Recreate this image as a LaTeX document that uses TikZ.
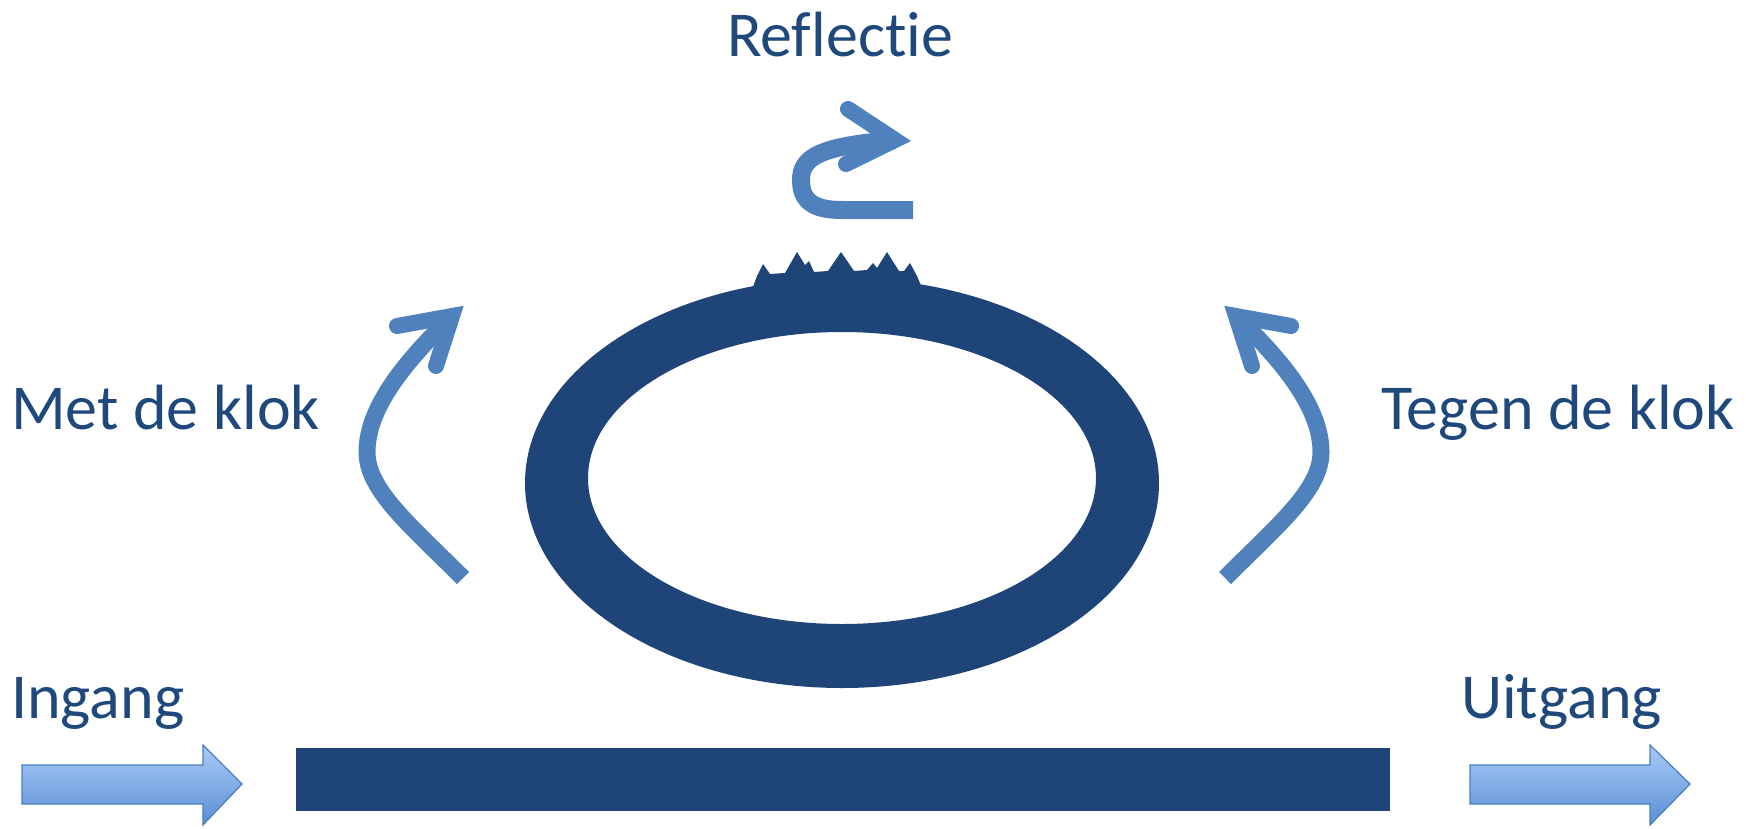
\documentclass[tikz,border=0pt]{standalone}
\usepackage{fontspec}
\setmainfont{Carlito}[Ligatures={NoCommon,NoContextual,NoRequired}]
\definecolor{dkblue}{HTML}{1F4478}
\definecolor{txtblue}{HTML}{1F497D}
\definecolor{accblue}{HTML}{4F81BD}
\definecolor{lighttop}{HTML}{A9CBF7}
\definecolor{lightbot}{HTML}{5A8ED4}
\definecolor{arrborder}{HTML}{4A7EC0}
\tikzset{
  lbl/.style={inner sep=0pt, text=txtblue, font=\fontsize{64}{77}\selectfont},
  curvearrow/.style={draw=accblue, line width=17pt, line cap=butt},
  barb/.style={draw=accblue, line width=16pt, line cap=round, line join=miter},
  blockarrow/.style={draw=arrborder, line width=1.2pt, top color=lighttop, bottom color=lightbot, line join=miter},
}
\begin{document}
\begin{tikzpicture}[x=1pt,y=-1pt]
\useasboundingbox (0,0) rectangle (1746,828);
\fill[white] (0,0) rectangle (1746,828);

% ring
\fill[dkblue, even odd rule] (842,483) ellipse [x radius=317pt, y radius=205pt]
  (842,478) ellipse [x radius=254pt, y radius=146pt];
% rough spikes on top
\fill[dkblue] (750,295) -- (757,276) -- (763,264) -- (770,274) -- (785,273) -- (797,252)
  -- (805,265) -- (809,261) -- (814,272) -- (828,271) -- (841,252) -- (854,271)
  -- (867,270) -- (873,263) -- (877,268) -- (887,252) -- (899,271) -- (904,271)
  -- (910,263) -- (917,276) -- (925,295) -- cycle;

% waveguide bar
\fill[dkblue] (296,748) rectangle (1390,811);

% labels
\node[lbl, anchor=base] (refl) at (840,56) {Reflectie};
\node[lbl, anchor=base west] (met) at (11,429) {Met de klok};
\node[lbl, anchor=base east] (tegen) at (1735,429) {Tegen de klok};
\node[lbl, anchor=base west] (in) at (11,718) {Ingang};
\node[lbl, anchor=base west] (uit) at (1461,718) {Uitgang};

% reflection hook arrow
\coordinate (rs) at (913,210);
\coordinate (rt) at (895,140);
\draw[curvearrow, line width=18pt] (rs) -- (842,210) .. controls (812,210) and (801,200) .. (801,180)
  .. controls (801,158) and (818,146) .. (rt);
\draw[barb] (848,109) -- (rt) -- (846,164);

% clockwise arrow (left)
\coordinate (ls) at (463,578);
\coordinate (lt) at (452,316);
\draw[curvearrow] (ls) .. controls (410,525) and (367,490) .. (367,452)
  .. controls (367,405) and (410,357) .. (lt);
\draw[barb] (397,326) -- (lt) -- (436,366);

% counter-clockwise arrow (right)
\coordinate (rs2) at (1225,578);
\coordinate (rt2) at (1236,316);
\draw[curvearrow] (rs2) .. controls (1278,525) and (1321,490) .. (1321,452)
  .. controls (1321,405) and (1278,357) .. (rt2);
\draw[barb] (1291,326) -- (rt2) -- (1252,366);

% block arrows
\path[blockarrow] (22,765) -- (203,765) -- (203,745) -- (242,784) -- (203,825) -- (203,804) -- (22,804) -- cycle;
\path[blockarrow] (1470,765) -- (1650,765) -- (1650,745) -- (1690,784) -- (1650,825) -- (1650,804) -- (1470,804) -- cycle;
\end{tikzpicture}
\end{document}
